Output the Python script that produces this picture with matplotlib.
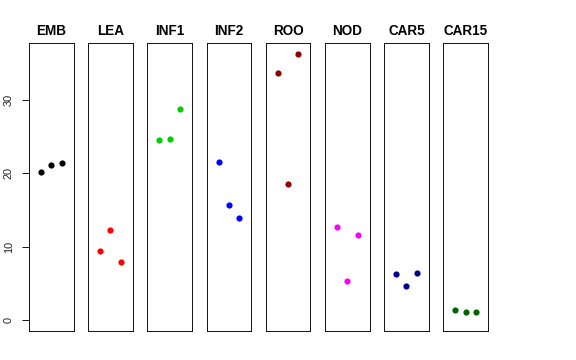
import matplotlib
matplotlib.use("Agg")
import matplotlib.pyplot as plt

plt.rcParams['font.family'] = ['Liberation Sans', 'DejaVu Sans']

# tissues and their three values each
tissues = ["EMB", "LEA", "INF1", "INF2", "ROO", "NOD", "CAR5", "CAR15"]
values = [
    [20.2, 21.2, 21.4],
    [9.5, 12.3, 7.9],
    [24.5, 24.7, 28.8],
    [21.6, 15.7, 13.9],
    [33.7, 18.5, 36.3],
    [12.7, 5.4, 11.6],
    [6.3, 4.7, 6.5],
    [1.4, 1.2, 1.2],
]
colors = ["black", "red", "#00CD00", "blue", "#8B0000", "magenta", "#00008B", "#006400"]
yticks = [0, 10, 20, 30]

W, H = 576, 360
fig = plt.figure(figsize=(W / 72, H / 72), dpi=72)

ymax = max(max(v) for v in values)
pad = 0.04 * ymax

for i, (name, vals, col) in enumerate(zip(tissues, values, colors)):
    left = 29 + 59.2 * i
    ax = fig.add_axes([left / W, (H - 331) / H, 44.5 / W, 288 / H])
    ax.plot([1, 2, 3], vals, "o", color=col, markersize=6.2, markeredgewidth=0)
    ax.set_xlim(-0.16, 4.16)
    ax.set_ylim(-pad, ymax + pad)
    ax.set_xticks([])
    ax.set_title(name, fontsize=13.5, fontweight="bold", pad=8)
    for s in ax.spines.values():
        s.set_linewidth(0.9)
    if i == 0:
        ax.set_yticks(yticks)
        ax.tick_params(axis="y", length=7, width=0.9, labelsize=11, pad=8,
                       labelcolor="#222222")
        for lab in ax.get_yticklabels():
            lab.set_rotation(90)
            lab.set_va("center")
    else:
        ax.set_yticks([])

fig.savefig("out.png", dpi=72)
